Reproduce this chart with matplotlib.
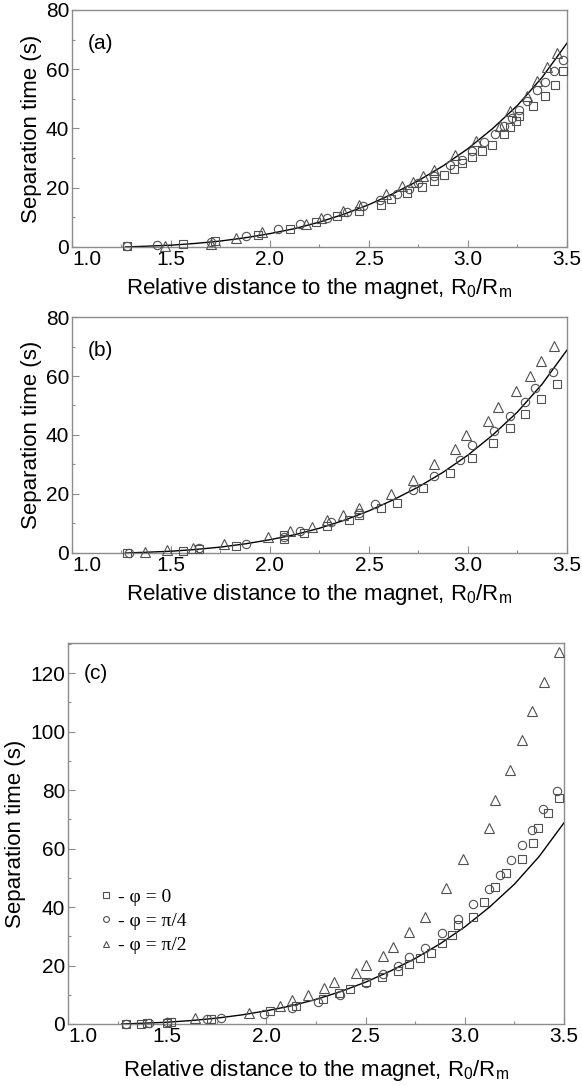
import matplotlib
matplotlib.use('Agg')
import matplotlib.pyplot as plt
from matplotlib.ticker import MultipleLocator

plt.rcParams['font.family'] = ['Liberation Sans', 'DejaVu Sans']

# fitted curve (same in all panels)
curve_x = [1.27, 1.375, 1.5, 1.625, 1.75, 1.875, 2.0, 2.125, 2.25, 2.375, 2.5,
           2.625, 2.75, 2.875, 3.0, 3.125, 3.25, 3.375, 3.5]
curve_y = [0.0, 0.25, 0.6, 1.2, 2.0, 3.1, 4.5, 6.2, 8.4, 11.1, 14.3,
           18.1, 22.4, 27.4, 33.2, 40.0, 47.8, 57.3, 68.8]

# panel (a)
a_sq_x = [1.28, 1.56, 1.72, 1.94, 2.10, 2.23, 2.34, 2.45, 2.56, 2.61, 2.69, 2.77, 2.83, 2.88,
          2.93, 2.97, 3.02, 3.07, 3.12, 3.18, 3.21, 3.24, 3.26, 3.33, 3.39, 3.44, 3.48]
a_sq_y = [0.2, 1.1, 2.0, 4.2, 6.0, 8.4, 10.3, 12.0, 14.3, 16.2, 18.2, 20.2, 22.1, 24.2,
          26.3, 28.3, 30.3, 32.3, 34.3, 38.3, 40.6, 42.5, 44.3, 47.6, 51.0, 54.7, 59.5]
a_ci_x = [1.28, 1.43, 1.70, 1.88, 2.04, 2.15, 2.29, 2.39, 2.47, 2.555, 2.64, 2.70, 2.75, 2.83,
          2.91, 2.97, 3.02, 3.08, 3.135, 3.18, 3.22, 3.26, 3.30, 3.35, 3.39, 3.435, 3.48]
a_ci_y = [0.2, 0.6, 1.7, 3.6, 6.1, 7.9, 9.7, 11.8, 13.8, 16.0, 17.8, 19.7, 21.7, 23.8,
          27.6, 29.5, 32.5, 35.5, 38.2, 41.0, 43.5, 46.4, 49.3, 53.0, 55.6, 59.3, 63.2]
a_tr_x = [1.47, 1.70, 1.83, 1.96, 2.18, 2.26, 2.37, 2.45, 2.585, 2.665, 2.72, 2.775, 2.83,
          2.935, 3.04, 3.16, 3.21, 3.30, 3.35, 3.40, 3.45]
a_tr_y = [0.4, 1.0, 3.1, 5.0, 7.9, 9.8, 12.0, 14.2, 18.0, 20.5, 21.9, 24.0, 26.1,
          31.2, 35.8, 41.0, 45.9, 51.0, 56.0, 60.8, 65.6]

# panel (b)
b_sq_x = [1.28, 1.56, 1.64, 1.83, 2.07, 2.07, 2.17, 2.29, 2.40, 2.45, 2.56, 2.64, 2.775,
          2.91, 3.02, 3.125, 3.21, 3.29, 3.37, 3.45]
b_sq_y = [0.0, 0.6, 1.3, 2.5, 4.8, 6.0, 6.9, 9.0, 11.2, 13.0, 15.2, 17.1, 21.9,
          27.2, 32.1, 37.2, 42.3, 47.0, 52.1, 57.3]
b_ci_x = [1.29, 1.64, 1.88, 2.07, 2.15, 2.31, 2.45, 2.53, 2.72, 2.83, 2.96, 3.02, 3.13,
          3.21, 3.29, 3.34, 3.43]
b_ci_y = [0.1, 1.6, 3.2, 5.5, 7.5, 10.6, 13.5, 16.5, 21.5, 26.2, 31.6, 36.5, 41.5,
          46.4, 51.1, 55.8, 61.4]
b_tr_x = [1.37, 1.48, 1.61, 1.77, 1.99, 2.10, 2.21, 2.29, 2.37, 2.45, 2.61, 2.72, 2.83,
          2.936, 2.99, 3.10, 3.153, 3.24, 3.315, 3.37, 3.435]
b_tr_y = [0.3, 0.9, 1.7, 3.0, 5.4, 7.3, 8.8, 11.2, 13.0, 15.2, 20.0, 24.6, 30.1,
          35.2, 40.0, 44.9, 49.6, 55.0, 60.0, 65.1, 70.2]

# panel (c)
c_sq_x = [1.29, 1.37, 1.40, 1.50, 1.52, 1.72, 2.02, 2.15, 2.287, 2.367, 2.42, 2.50, 2.584,
          2.665, 2.72, 2.774, 2.828, 2.884, 2.935, 2.964, 3.043, 3.097, 3.152, 3.208, 3.287,
          3.342, 3.367, 3.42, 3.476]
c_sq_y = [0.0, 0.1, 0.3, 0.5, 0.6, 1.7, 4.3, 6.3, 8.5, 10.7, 11.9, 14.5, 16.0,
          18.2, 20.5, 22.5, 24.4, 27.6, 30.4, 33.9, 36.7, 41.6, 46.7, 51.7, 56.4,
          62.0, 66.9, 72.0, 77.2]
c_ci_x = [1.29, 1.41, 1.50, 1.70, 1.77, 1.99, 2.13, 2.26, 2.37, 2.50, 2.59, 2.665, 2.72,
          2.80, 2.884, 2.964, 3.043, 3.124, 3.177, 3.233, 3.287, 3.34, 3.393, 3.466]
c_ci_y = [0.0, 0.2, 0.6, 1.7, 2.1, 3.4, 5.5, 7.5, 9.9, 13.9, 17.0, 19.9, 22.8,
          25.9, 31.0, 35.9, 40.9, 46.0, 50.9, 56.1, 61.2, 66.3, 73.4, 79.7]
c_tr_x = [1.64, 1.91, 2.07, 2.13, 2.21, 2.29, 2.34, 2.45, 2.50, 2.59, 2.64, 2.72, 2.80,
          2.905, 2.99, 3.124, 3.15, 3.23, 3.29, 3.34, 3.40, 3.476]
c_tr_y = [1.9, 3.8, 6.3, 8.2, 9.9, 12.2, 14.5, 17.5, 20.2, 23.4, 26.4, 31.3, 36.7,
          46.4, 56.6, 66.9, 76.6, 86.8, 97.1, 107.1, 117.0, 127.3]

x_ticks = [1.0, 1.5, 2.0, 2.5, 3.0, 3.5]
legend_labels = ['- \u03c6 = 0', '- \u03c6 = \u03c0/4', '- \u03c6 = \u03c0/2']

xlabel = r'Relative distance to the magnet, $\mathregular{R_0/R_m}$'
mk_color = '#505050'
spine_color = '#8c8c8c'

fig = plt.figure(figsize=(5.82, 10.86), dpi=100)
ax_a = fig.add_axes([0.1237, 0.7726, 0.8505, 0.2182])
ax_b = fig.add_axes([0.1237, 0.4908, 0.8505, 0.2173])
ax_c = fig.add_axes([0.1168, 0.0571, 0.8522, 0.3508])

panels = [
    (ax_a, '(a)', 80, (a_sq_x, a_sq_y), (a_ci_x, a_ci_y), (a_tr_x, a_tr_y), 0.857, 5),
    (ax_b, '(b)', 80, (b_sq_x, b_sq_y), (b_ci_x, b_ci_y), (b_tr_x, b_tr_y), 0.86, 5),
    (ax_c, '(c)', 130.3, (c_sq_x, c_sq_y), (c_ci_x, c_ci_y), (c_tr_x, c_tr_y), 0.919, 9),
]

for ax, tag, ytop, sq, ci, tr, tag_y, xpad in panels:
    ax.plot(curve_x, curve_y, color='black', lw=1.0, zorder=2)
    kw = dict(ls='none', mfc='none', mec=mk_color, mew=0.8, clip_on=False, zorder=3)
    h1, = ax.plot(sq[0], sq[1], marker='s', ms=6, **kw)
    h2, = ax.plot(ci[0], ci[1], marker='o', ms=6, **kw)
    h3, = ax.plot(tr[0], tr[1], marker='^', ms=6.5, **kw)

    ax.set_xlim(1.0, 3.5)
    ax.set_ylim(0, ytop)
    ax.set_xticks(x_ticks)
    ax.set_xticklabels(['%.1f' % v for v in x_ticks])
    ax.get_xticklabels()[0].set_horizontalalignment('left')
    ax.xaxis.set_minor_locator(MultipleLocator(0.25))
    ax.yaxis.set_major_locator(MultipleLocator(20))
    ax.yaxis.set_minor_locator(MultipleLocator(10))
    ax.tick_params(which='both', direction='in', color=spine_color, labelsize=15,
                   top=False, right=False, pad=2)
    ax.tick_params(which='major', length=5, width=0.8)
    ax.tick_params(which='minor', length=2.5, width=0.8)
    for s in ax.spines.values():
        s.set_color(spine_color)
        s.set_linewidth(1.0)
    ax.set_ylabel('Separation time (s)', fontsize=16, labelpad=3)
    ax.set_xlabel(xlabel, fontsize=16, labelpad=xpad)
    ax.text(0.032, tag_y, tag, transform=ax.transAxes, fontsize=15, va='center', ha='left')

    if tag == '(c)':
        ax.legend([h1, h2, h3], legend_labels, loc='center left',
                  bbox_to_anchor=(0.03, 0.27), frameon=False, markerscale=0.7,
                  handlelength=0.6, handletextpad=0.3, labelspacing=0.35,
                  prop={'family': 'Liberation Serif', 'size': 14})

fig.savefig('out.png', dpi=100)
